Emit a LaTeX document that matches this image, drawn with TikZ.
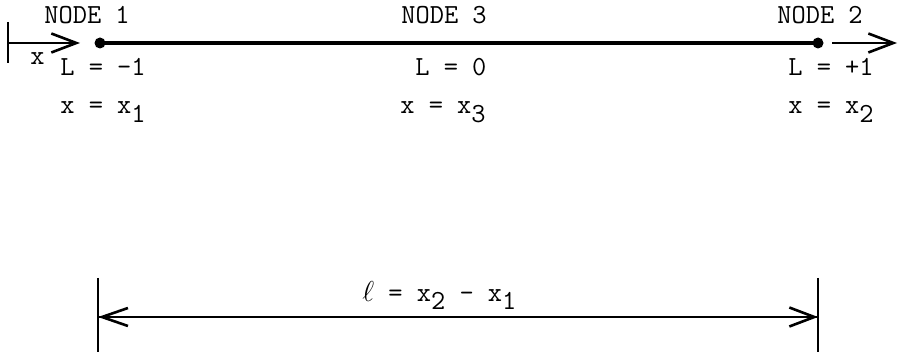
\documentclass[tikz,border=0pt]{standalone}
\usetikzlibrary{arrows.meta}
\newcommand{\lowsub}[1]{\raisebox{-0.75ex}{#1}}
\begin{document}
\begin{tikzpicture}[x=0.5pt,y=-0.5pt,
  txt/.style={font=\fontsize{13.8}{16}\selectfont\ttfamily, inner sep=0pt, anchor=base west},
  thinline/.style={line width=1.3pt},
  barb/.style={-{Straight Barb[length=12.5pt,width=9.5pt,line width=1.3pt]}},
  dot/.style={circle, fill, inner sep=0pt, minimum size=5.5pt}]
\useasboundingbox (0,0) rectangle (898,357);
% top axis
\coordinate (t1a) at (8,22);
\coordinate (t1b) at (8,63);
\draw[thinline] (t1a) -- (t1b);
\coordinate (a1s) at (8,43);
\coordinate (a1e) at (80,43);
\draw[thinline, barb] (a1s) -- (a1e);
\node[txt] (xl) at (30,65) {x};
\node[dot] (n1) at (100,43) {};
\node[dot] (n2) at (818,43) {};
\draw[line width=2.2pt] (n1.center) -- (n2.center);
\coordinate (a2s) at (832,43);
\coordinate (a2e) at (897,43);
\draw[thinline, barb] (a2s) -- (a2e);
% labels
\node[txt] (h1) at (44,24) {NODE 1};
\node[txt] (h3) at (401,24) {NODE 3};
\node[txt] (h2) at (777,24) {NODE 2};
\node[txt] (l1) at (60,76) {L = -1};
\node[txt] (l3) at (415,76) {L = 0};
\node[txt] (l2) at (788,76) {L = +1};
\node[txt] (x1) at (60,114) {x = x\lowsub{1}};
\node[txt] (x3) at (400,114) {x = x\lowsub{3}};
\node[txt] (x2) at (788,114) {x = x\lowsub{2}};
% bottom dimension
\coordinate (b1a) at (98,278);
\coordinate (b1b) at (98,352);
\coordinate (b2a) at (818,278);
\coordinate (b2b) at (818,352);
\draw[thinline] (b1a) -- (b1b);
\draw[thinline] (b2a) -- (b2b);
\coordinate (d1) at (98,317);
\coordinate (d2) at (818,317);
\draw[thinline, barb] (d1) -- (d2);
\draw[thinline, -{Straight Barb[length=13pt,width=9pt,line width=1.3pt]}] (d2) -- (d1);
\node[txt] (len) at (362,301) {$\ell$ = x\lowsub{2} - x\lowsub{1}};
\end{tikzpicture}
\end{document}
